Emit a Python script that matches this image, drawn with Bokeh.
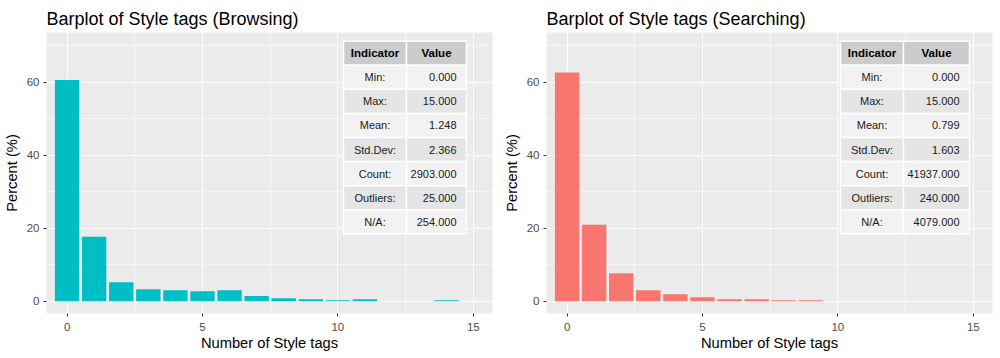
from bokeh.plotting import figure
from bokeh.layouts import row
from bokeh.models import Range1d, SingleIntervalTicker, ColumnDataSource
from bokeh.embed import file_html
from bokeh.resources import INLINE
from bokeh.core.properties import value

# ---------------- data ----------------
browsing_tags = list(range(15))
browsing_pct = [60.7, 17.7, 5.2, 3.3, 3.0, 2.75, 3.0, 1.45, 0.82, 0.55, 0.27, 0.55, 0.0, 0.0, 0.27]

searching_tags = list(range(10))
searching_pct = [62.75, 21.0, 7.7, 3.0, 1.9, 1.1, 0.55, 0.55, 0.27, 0.27]

table_header = ["Indicator", "Value"]
indicators = ["Min:", "Max:", "Mean:", "Std.Dev:", "Count:", "Outliers:", "N/A:"]
browsing_stats = ["0.000", "15.000", "1.248", "2.366", "2903.000", "25.000", "254.000"]
searching_stats = ["0.000", "15.000", "0.799", "1.603", "41937.000", "240.000", "4079.000"]

# ---------------- style ----------------
FONT = "Liberation Sans"
X0, X1 = -0.76, 15.71
Y0, Y1 = -3.37, 73.7
FW, FH = 446, 281  # frame size in px


def px_x(px):
    return X0 + px / FW * (X1 - X0)


def px_y(py):
    return Y1 - py / FH * (Y1 - Y0)


def make(title, tags, pct, color, stats, tl, ts, tr):
    p = figure(width=500, height=358, x_range=Range1d(X0, X1), y_range=Range1d(Y0, Y1),
               output_backend="svg", toolbar_location=None,
               min_border_left=46, min_border_right=8,
               min_border_top=32, min_border_bottom=45, title=title)
    p.background_fill_color = "#EBEBEB"
    p.border_fill_color = "white"
    p.outline_line_color = None

    p.title.text_font = FONT
    p.title.text_font_size = "18px"
    p.title.text_font_style = "normal"
    p.title.text_color = "black"
    p.title.align = "left"
    p.title.offset = 0
    p.title.standoff = 8

    p.xaxis.ticker = SingleIntervalTicker(interval=5, num_minor_ticks=2)
    p.yaxis.ticker = SingleIntervalTicker(interval=20, num_minor_ticks=2)
    for ax in (p.xaxis, p.yaxis):
        ax.axis_line_color = None
        ax.major_tick_line_color = "#333333"
        ax.major_tick_out = 3
        ax.major_tick_in = 0
        ax.minor_tick_line_color = None
        ax.major_label_text_font = FONT
        ax.major_label_text_font_size = "11.5px"
        ax.major_label_text_color = "#4D4D4D"
        ax.axis_label_text_font = FONT
        ax.axis_label_text_font_size = "14.7px"
        ax.axis_label_text_font_style = "normal"
        ax.axis_label_text_color = "black"
    p.xaxis.major_label_standoff = 5
    p.xaxis.axis_label_standoff = 1
    p.yaxis.major_label_standoff = 3
    p.yaxis.axis_label_standoff = 4
    p.xaxis.axis_label = "Number of Style tags"
    p.yaxis.axis_label = "Percent (%)"

    for g in (p.xgrid, p.ygrid):
        g.grid_line_color = "white"
        g.grid_line_width = 1.1
        g.minor_grid_line_color = "white"
        g.minor_grid_line_width = 0.55

    src = ColumnDataSource(dict(x=tags, top=pct))
    p.vbar(x="x", top="top", bottom=0, width=0.9, source=src, fill_color=color, line_color=None)

    # ---- statistics table ----
    top = 8.7
    rh = 24.08
    n = len(indicators) + 1
    xs, ys, ws, hs, fills = [], [], [], [], []
    for i in range(n):
        yc = px_y(top + rh * (i + 0.5))
        if i == 0:
            f = "#CCCCCC"
        else:
            f = "#F2F2F2" if i % 2 == 1 else "#E5E5E5"
        for a, b in ((tl, ts), (ts, tr)):
            xs.append((px_x(a) + px_x(b)) / 2)
            ws.append(px_x(b) - px_x(a))
            ys.append(yc)
            hs.append(px_y(0) - px_y(rh))
            fills.append(f)
    p.rect(x=xs, y=ys, width=ws, height=hs, fill_color=fills, line_color="white", line_width=1.5)

    hy = px_y(top + rh * 0.5)
    p.text(x=[(px_x(tl) + px_x(ts)) / 2, (px_x(ts) + px_x(tr)) / 2], y=[hy, hy], text=table_header,
           text_align="center", text_baseline="middle", text_font=value(FONT),
           text_font_size="11.5px", text_font_style="bold", text_color="black")
    rows_y = [px_y(top + rh * (i + 1.5)) for i in range(len(indicators))]
    p.text(x=[(px_x(tl) + px_x(ts)) / 2] * len(indicators), y=rows_y, text=indicators,
           text_align="center", text_baseline="middle", text_font=value(FONT),
           text_font_size="11px", text_color="#1A1A1A")
    p.text(x=[px_x(tr - 10)] * len(stats), y=rows_y, text=stats,
           text_align="right", text_baseline="middle", text_font=value(FONT),
           text_font_size="11px", text_color="#1A1A1A")
    return p


p1 = make("Barplot of Style tags (Browsing)", browsing_tags, browsing_pct, "#00BFC4",
          browsing_stats, 297, 360, 420)
p2 = make("Barplot of Style tags (Searching)", searching_tags, searching_pct, "#F8766D",
          searching_stats, 294, 357, 423)

layout = row(p1, p2)
open("out.html", "w").write(file_html(layout, INLINE))
